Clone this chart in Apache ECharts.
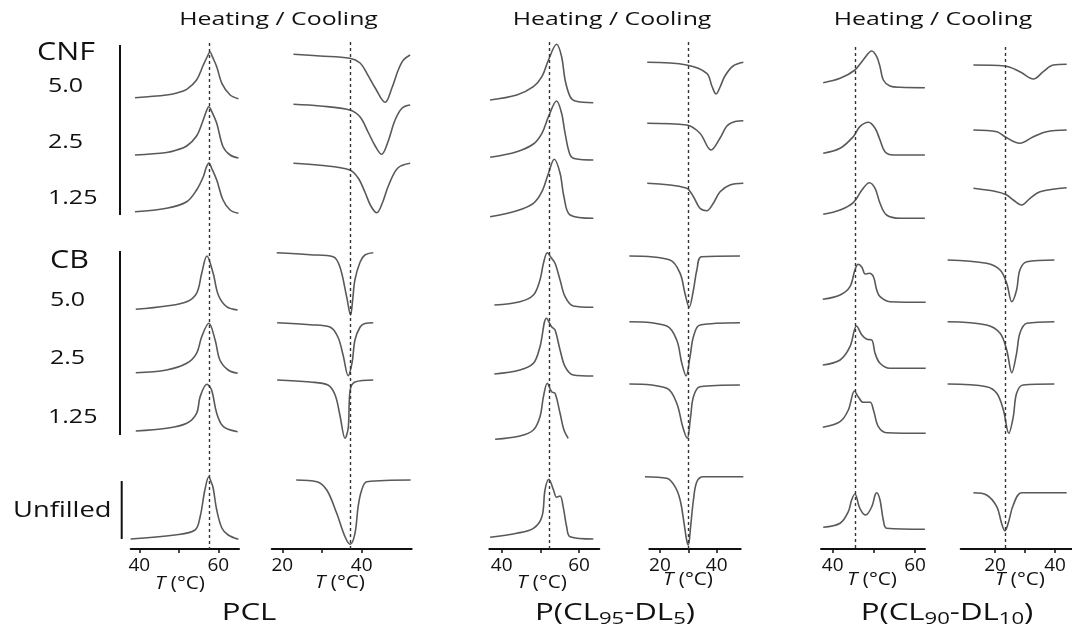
<!DOCTYPE html>
<html>
<head>
<meta charset="utf-8">
<script src="https://cdn.jsdelivr.net/npm/echarts@6/dist/echarts.min.js"></script>
<style>
  html, body { margin: 0; background: #fff; }
  #main { width: 1072px; height: 631px; }
</style>
</head>
<body>
<div id="main"></div>
<script>
// rows, top to bottom
const samples = ['CNF 5.0', 'CNF 2.5', 'CNF 1.25', 'CB 5.0', 'CB 2.5', 'CB 1.25', 'Unfilled']

// DSC traces: [T (°C), heat flow relative to the start of the trace (a.u., endo up)]
const pclHeating = [
  [[38.9, 0], [46.9, 2.7], [49.5, 4.7], [52.0, 8.4], [54.5, 17.7], [56.2, 32.7], [57.4, 42.7], [57.9, 46], [58.5, 41], [59.6, 31], [60.9, 14.4], [63.0, 2.7], [65.1, -1]],
  [[38.9, 0], [46.9, 2.5], [49.5, 5], [52.0, 9], [54.5, 19], [56.0, 33], [56.9, 43], [57.6, 48.3], [58.4, 43], [59.6, 31.7], [61.2, 8.3], [63.0, 0], [65.1, -3]],
  [[38.9, 0], [46.9, 3.4], [52.0, 10], [54.5, 21.7], [56.2, 35], [56.9, 43.7], [57.6, 48.7], [58.4, 42.7], [59.6, 31.7], [61.2, 11.7], [63.0, 1.7], [65.1, -1.6]],
  [[39.1, 0], [46.9, 3.3], [52.0, 7.6], [54.5, 16], [55.8, 36], [57.1, 53.3], [58.7, 36], [60.0, 14.3], [62.1, 2.6], [64.9, -0.7]],
  [[39.1, 0], [46.9, 2.7], [52.0, 9.4], [54.5, 19.4], [55.8, 36], [57.6, 49.4], [59.2, 32.7], [60.4, 12.7], [62.5, 2.7], [64.9, -0.6]],
  [[39.1, 0], [46.9, 2.7], [52.0, 7.7], [54.5, 17.7], [55.4, 34.3], [57.1, 46.7], [58.3, 41], [59.6, 17.7], [61.3, 4.3], [64.9, -0.7]],
  [[37.8, 0], [49.0, 4], [54.1, 9], [55.4, 22.3], [56.6, 49], [57.6, 62.3], [58.2, 57], [58.7, 51], [59.6, 29], [60.9, 11], [62.5, 4], [65.1, -0.3]]
]
const pclCooling = [
  [[22.8, 0], [29.5, -1.7], [37.0, -4], [39.6, -8.7], [41.3, -19], [43.4, -33.7], [45.9, -48], [47.6, -33.7], [49.2, -15.7], [50.5, -5.7], [52.2, -0.7]],
  [[22.8, 0], [29.5, -1.7], [37.0, -5.7], [39.6, -12.7], [41.6, -27.7], [43.4, -41.7], [45.0, -50], [46.6, -37.7], [48.4, -15.7], [50.2, -3.7], [52.2, -0.7]],
  [[22.8, 0], [29.5, -2], [37.0, -6.7], [39.1, -14.7], [40.8, -28.7], [42.3, -42.7], [43.8, -49.4], [45.1, -40.7], [46.8, -21.7], [49.1, -4.7], [52.2, 0]],
  [[18.6, 0], [27.0, -2], [32.8, -4], [34.5, -14], [36.2, -44], [37.2, -62.3], [37.7, -48], [38.3, -27], [39.6, -9.3], [40.8, -2.3], [42.9, 0]],
  [[18.7, 0], [27.0, -2], [32.0, -4.3], [34.0, -14.3], [35.3, -32.3], [36.6, -53], [37.6, -39.3], [38.3, -17.3], [39.6, -4.3], [40.8, -0.8], [42.9, 0]],
  [[18.7, 0], [27.0, -2], [31.5, -5], [33.3, -15], [34.5, -35], [35.8, -58.3], [36.6, -48], [37.1, -10], [38.3, -2], [42.9, 0]],
  [[23.5, 0], [28.7, -1.7], [31.2, -10], [33.7, -33.3], [35.8, -56.7], [37.1, -64.3], [38.3, -53.3], [39.1, -26.7], [40.0, -10], [41.3, -1.7], [52.3, 0]]
]
const p95Heating = [
  [[37.0, 0], [43.9, 5], [48.2, 13.3], [50.4, 23.3], [52.1, 40], [54.2, 55.7], [55.5, 43.3], [56.4, 20], [57.7, 3.3], [59.0, -1], [63.7, -2.7]],
  [[37.0, 0], [43.9, 5.6], [48.2, 13.3], [50.4, 24], [52.1, 40.6], [54.2, 56.3], [55.5, 44], [56.4, 24], [57.7, 2.3], [59.0, -1.5], [63.7, -2.7]],
  [[37.0, 0], [43.9, 6], [48.2, 13.4], [50.4, 25], [52.1, 43.4], [53.6, 57.4], [55.1, 43.4], [56.1, 20], [57.7, 1.7], [63.7, -1.6]],
  [[38.1, 0], [44.7, 3.3], [48.2, 10], [49.9, 25], [50.8, 41.7], [51.8, 52.3], [52.9, 46.7], [53.8, 41.7], [55.1, 25], [56.4, 8.3], [58.5, -1], [63.7, -2.3]],
  [[38.1, 0], [44.7, 4], [48.2, 10.7], [49.9, 27.3], [51.6, 55.7], [52.9, 47.3], [53.8, 44], [55.1, 24], [56.4, 7.3], [58.5, -1], [63.7, -2]],
  [[38.3, 0], [44.7, 3.3], [48.2, 9.3], [49.9, 22.6], [50.8, 42.6], [51.8, 56], [52.9, 47.6], [53.8, 46], [55.1, 26], [56.1, 9.3], [57.2, 1]],
  [[37.0, 0], [43.9, 4], [48.2, 9], [50.4, 20.6], [51.2, 47.3], [52.2, 58], [53.4, 47.3], [54.2, 40], [55.1, 41.3], [55.9, 30.6], [56.8, 10.6], [57.7, 0.6], [63.7, -1.7]]
]
const p95Cooling = [
  [[15.5, 0], [29.4, -2.7], [36.5, -11], [38.3, -23.7], [39.8, -31.7], [41.2, -24.7], [42.9, -13.7], [45.8, -3.7], [49.4, 0]],
  [[15.5, 0], [29.4, -1.7], [34.1, -10], [38.0, -26.7], [41.2, -14.7], [43.6, -2.7], [46.5, 1.8], [49.4, 2.6]],
  [[15.5, 0], [29.2, -4.7], [31.8, -13.4], [34.1, -25], [36.5, -27.4], [38.8, -20], [41.2, -8.4], [44.7, -1.7], [49.4, 0]],
  [[9.2, 0], [23.5, -4], [27.1, -17.3], [28.8, -37.3], [30.3, -51.3], [31.8, -34], [33.0, -14], [34.7, -0.7], [48.2, 0]],
  [[9.2, 0], [22.4, -4.3], [25.9, -18.3], [27.7, -41.6], [29.2, -54.3], [30.6, -35], [31.8, -15], [34.1, -3.3], [48.2, -1]],
  [[9.2, 0], [22.4, -4.3], [25.9, -19.3], [28.0, -42.7], [29.6, -54.3], [30.8, -32.7], [31.8, -12.7], [34.1, -2.7], [48.2, -1]],
  [[14.7, 0], [22.4, -1.6], [25.3, -10], [27.1, -23.3], [28.5, -46.6], [29.4, -63.3], [30.0, -68.3], [30.8, -50], [31.8, -23.3], [33.0, -5], [35.3, 0], [49.4, 0]]
]
const p90Heating = [
  [[37.7, 0], [41.8, 4.4], [45.4, 12.7], [47.4, 22.7], [49.5, 31.7], [50.7, 26], [51.5, 16], [52.3, 2.7], [53.9, -3.3], [56.4, -4.6], [62.4, -5]],
  [[37.7, 0], [41.8, 5], [45.0, 16.6], [46.6, 26.6], [48.7, 31], [50.3, 25], [51.5, 13.3], [52.7, 1.6], [54.7, -1.7], [62.4, -1.7]],
  [[37.7, 0], [41.8, 4.3], [45.0, 11.6], [47.1, 24.3], [48.9, 31.6], [50.3, 26], [51.5, 11], [53.1, -0.7], [56.4, -4], [62.4, -4]],
  [[37.6, 0], [41.8, 4.3], [44.2, 12.6], [45.4, 29.3], [46.2, 35], [47.1, 32], [47.9, 25.3], [48.9, 26], [49.9, 22.6], [50.7, 9.3], [51.5, 2.6], [53.9, -2.4], [62.6, -3]],
  [[37.6, 0], [41.8, 5], [44.2, 18.3], [45.8, 39], [47.1, 30], [48.3, 25.7], [49.5, 25], [50.3, 11.7], [51.5, 1.7], [53.9, -3.3], [62.6, -3.3]],
  [[37.6, 0], [41.8, 5.6], [43.8, 17.3], [45.3, 36.3], [46.2, 30.6], [47.4, 25], [49.1, 25], [49.9, 17.3], [51.1, 0.6], [53.1, -5.4], [62.6, -6]],
  [[37.7, 0], [41.8, 4], [43.8, 15.6], [44.6, 27.3], [45.4, 33.3], [46.6, 19], [48.0, 12.3], [49.5, 20.6], [50.3, 32.3], [50.7, 34.6], [51.5, 27.3], [52.3, 7.3], [53.1, -1], [62.4, -2]]
]
const p90Cooling = [
  [[12.8, 0], [23.3, -1], [28.3, -6.7], [32.8, -14], [36.1, -6.7], [39.4, 0], [43.9, 0.7]],
  [[12.8, 0], [20.6, -1.7], [23.3, -6.7], [28.3, -13.3], [32.8, -6.7], [37.2, -1.7], [43.9, 0]],
  [[12.8, 0], [20.6, -3.4], [23.9, -6.7], [26.1, -11.7], [28.9, -16.7], [31.7, -10], [35.0, -3.4], [43.9, 0.6]],
  [[4.2, 0], [17.2, -3.3], [21.7, -10], [23.9, -23.3], [25.6, -41.7], [27.2, -30], [28.3, -10], [30.6, -1.7], [39.8, 0]],
  [[4.2, 0], [17.2, -3.3], [21.7, -11.6], [23.9, -28.3], [25.6, -51], [27.2, -31.6], [28.3, -11.6], [30.6, -1.6], [39.8, 0]],
  [[4.2, 0], [17.2, -2.7], [20.6, -9.3], [22.8, -26], [24.6, -49.3], [26.1, -32.7], [27.2, -9.3], [29.4, -1], [39.8, 0]],
  [[12.8, 0], [17.2, -2.3], [20.6, -14], [22.2, -30.6], [23.3, -38], [24.4, -30.6], [26.1, -12.3], [28.9, 0], [43.9, 0]]
]

// peak temperature of the unfilled polymer (dashed guide)
const unfilledPeakT = { pclHeating: 57.8, pclCooling: 37.2, p95Heating: 52.2, p95Cooling: 30.0, p90Heating: 45.4, p90Cooling: 23.3 }

const heatTicks = [40, 50, 60]
const heatLabels = [40, 60]
const coolTicks = [20, 30, 40]
const coolLabels = [20, 40]

// ---- layout (pixels) ----
const plotTop = 40
const axisY = 549
const panels = [
  { curves: pclHeating, dash: unfilledPeakT.pclHeating, left: 130.7, right: 239, min: 37.82, max: 65.24, ticks: heatTicks, labels: heatLabels, dashTop: 43,
    rowY: [97.7, 155, 211.7, 309.3, 372.7, 431, 539] },
  { curves: pclCooling, dash: unfilledPeakT.pclCooling, left: 271.7, right: 411.7, min: 17.33, max: 52.59, ticks: coolTicks, labels: coolLabels, dashTop: 42,
    rowY: [54.3, 104.3, 163.3, 252.7, 322.7, 380, 480] },
  { curves: p95Heating, dash: unfilledPeakT.p95Heating, left: 489.3, right: 599.3, min: 36.79, max: 65.25, ticks: heatTicks, labels: heatLabels, dashTop: 42,
    rowY: [100, 157.3, 216.7, 305, 374, 439.3, 537.3] },
  { curves: p95Cooling, dash: unfilledPeakT.p95Cooling, left: 649.3, right: 740.7, min: 16.23, max: 48.47, ticks: coolTicks, labels: coolLabels, dashTop: 42,
    rowY: [62.3, 123.3, 183.3, 256, 321.7, 384, 476.7] },
  { curves: p90Heating, dash: unfilledPeakT.p90Heating, left: 821, right: 925, min: 37.16, max: 62.43, ticks: heatTicks, labels: heatLabels, dashTop: 47,
    rowY: [82.7, 153.3, 214.3, 299.3, 365, 427.3, 527.3] },
  { curves: p90Cooling, dash: unfilledPeakT.p90Cooling, left: 960.7, right: 1071.7, min: 8.57, max: 45.57, ticks: coolTicks, labels: coolLabels, dashTop: 47,
    rowY: [65, 130, 188.3, 260, 321.7, 384, 492.7] }
]

const FONT = 'Open Sans'
const INK = '#111'
const grid = []
const xAxis = []
const yAxis = []
const series = []

panels.forEach((p, i) => {
  // visible temperature axis
  grid.push({ left: p.left, width: p.right - p.left, top: plotTop, height: axisY - plotTop })
  xAxis.push({
    gridIndex: 2 * i,
    type: 'value',
    min: p.min,
    max: p.max,
    axisLine: { show: true, onZero: false, lineStyle: { color: INK, width: 2 } },
    axisTick: { show: true, customValues: p.ticks, length: 4, lineStyle: { color: INK, width: 1.5 } },
    axisLabel: { customValues: p.labels, fontFamily: FONT, fontSize: 19, color: INK, margin: 7 },
    splitLine: { show: false },
  })
  yAxis.push({ gridIndex: 2 * i, type: 'value', min: plotTop, max: axisY, inverse: true, show: false })

  // traces can run past the drawn axis, so they get a wider grid on the same scale
  const pxPerDeg = (p.right - p.left) / (p.max - p.min)
  let lo = p.min
  let hi = p.max
  p.curves.forEach((c) => c.forEach((d) => { lo = Math.min(lo, d[0] - 0.5); hi = Math.max(hi, d[0] + 0.5) }))
  grid.push({ left: p.left + (lo - p.min) * pxPerDeg, width: (hi - lo) * pxPerDeg, top: plotTop, height: axisY - plotTop })
  xAxis.push({ gridIndex: 2 * i + 1, type: 'value', min: lo, max: hi, show: false })
  yAxis.push({ gridIndex: 2 * i + 1, type: 'value', min: plotTop, max: axisY, inverse: true, show: false })

  p.curves.forEach((c, j) => {
    series.push({
      name: samples[j],
      type: 'line',
      xAxisIndex: 2 * i + 1,
      yAxisIndex: 2 * i + 1,
      data: c.map((d) => [d[0], p.rowY[j] - d[1]]),
      smooth: 0.35,
      symbol: 'none',
      silent: true,
      lineStyle: { color: '#595959', width: 1.6 },
      markLine: j === 0 ? {
        symbol: ['none', 'none'],
        silent: true,
        label: { show: false },
        lineStyle: { color: '#333', width: 1.4, type: [3, 3] },
        data: [[{ coord: [p.dash, p.dashTop] }, { coord: [p.dash, axisY] }]],
      } : undefined,
    })
  })
})

function text(str, x, y, size, align, sx) {
  return {
    type: 'text',
    x: x,
    y: y,
    scaleX: sx,
    silent: true,
    style: {
      text: str,
      fontFamily: FONT,
      fontSize: size,
      fill: INK,
      align: align,
      textAlign: align,
      verticalAlign: 'middle',
      textVerticalAlign: 'middle',
    },
  }
}

function bar(x, y1, y2) {
  return { type: 'line', silent: true, shape: { x1: x, y1: y1, x2: x, y2: y2 }, style: { stroke: INK, lineWidth: 2 } }
}

const tempName = (x, y) => {
  const t = text('{i|T} (°C)', x, y, 18, 'center', 1.15)
  t.style.rich = { i: { fontStyle: 'italic', fontFamily: FONT, fontSize: 18, fill: INK } }
  return t
}

const polyName = (str, x) => {
  const t = text(str, x, 613, 24, 'center', 1.3)
  t.style.rich = {
    a: { fontFamily: FONT, fontSize: 24, lineHeight: 30, fill: INK },
    s: { fontFamily: FONT, fontSize: 17, lineHeight: 16, verticalAlign: 'bottom', fill: INK },
  }
  return t
}

const graphic = [
  text('Heating / Cooling', 278.5, 20, 18, 'center', 1.38),
  text('Heating / Cooling', 612, 20, 18, 'center', 1.38),
  text('Heating / Cooling', 933, 20, 18, 'center', 1.38),
  text('CNF', 37, 53, 25, 'left', 1.22),
  text('5.0', 48, 86, 20, 'left', 1.25),
  text('2.5', 48, 142, 20, 'left', 1.25),
  text('1.25', 48, 198, 20, 'left', 1.25),
  text('CB', 50, 261, 25, 'left', 1.22),
  text('5.0', 50, 300, 20, 'left', 1.25),
  text('2.5', 50, 358, 20, 'left', 1.25),
  text('1.25', 48, 417, 20, 'left', 1.25),
  text('Unfilled', 13, 511, 21, 'left', 1.3),
  bar(120, 45, 215),
  bar(120, 251, 435),
  bar(121.7, 481, 539),
  tempName(180, 584),
  tempName(340, 583),
  tempName(542, 583),
  tempName(688, 580),
  tempName(872, 580),
  tempName(1020, 580),
  polyName('PCL', 249),
  polyName('{a|P(CL}{s|95}{a|-DL}{s|5}{a|)}', 615),
  polyName('{a|P(CL}{s|90}{a|-DL}{s|10}{a|)}', 947),
]

const option = {
  backgroundColor: '#fff',
  animation: false,
  grid: grid,
  xAxis: xAxis,
  yAxis: yAxis,
  series: series,
  graphic: graphic,
}

const myChart = echarts.init(document.getElementById('main'))
myChart.setOption(option)
</script>
</body>
</html>
